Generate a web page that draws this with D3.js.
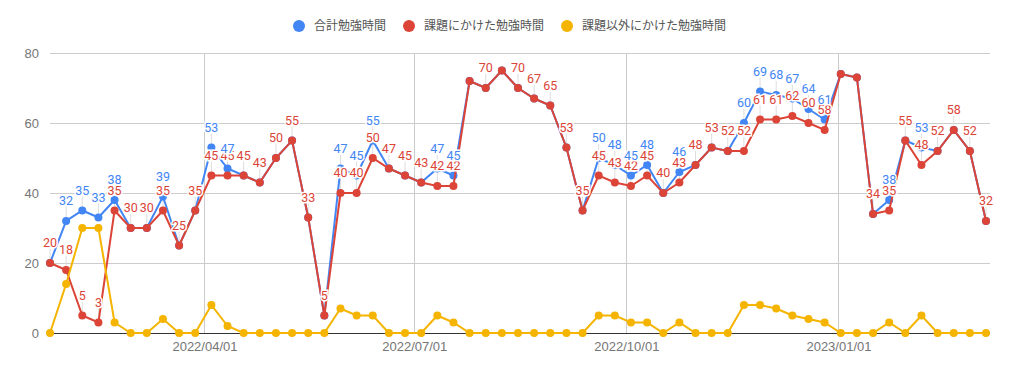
<!DOCTYPE html>
<html>
<head>
<meta charset="utf-8">
<script src="https://cdn.jsdelivr.net/npm/d3@7"></script>
<style>
  body { margin: 0; background: #fff; }
  svg { display: block; font-family: Roboto, "Noto Sans CJK JP", sans-serif; }
</style>
</head>
<body>
<svg></svg>
<script>
// Weekly data points
const dates = [
  "2022-01-24","2022-01-31","2022-02-07","2022-02-14","2022-02-21","2022-02-28","2022-03-07","2022-03-14",
  "2022-03-21","2022-03-28","2022-04-04","2022-04-11","2022-04-18","2022-04-25","2022-05-02","2022-05-09",
  "2022-05-16","2022-05-23","2022-05-30","2022-06-06","2022-06-13","2022-06-20","2022-06-27","2022-07-04",
  "2022-07-11","2022-07-18","2022-07-25","2022-08-01","2022-08-08","2022-08-15","2022-08-22","2022-08-29",
  "2022-09-05","2022-09-12","2022-09-19","2022-09-26","2022-10-03","2022-10-10","2022-10-17","2022-10-24",
  "2022-10-31","2022-11-07","2022-11-14","2022-11-21","2022-11-28","2022-12-05","2022-12-12","2022-12-19",
  "2022-12-26","2023-01-02","2023-01-09","2023-01-16","2023-01-23","2023-01-30","2023-02-06","2023-02-13",
  "2023-02-20","2023-02-27","2023-03-06"
];
const totalHours = [20,32,35,33,38,30,30,39,25,35, 53,47,45,43,50,55,33,5,47,45,
  55,47,45,43,47,45,72,70,75,70, 67,65,53,35,50,48,45,48,40,46,
  48,53,52,60,69,68,67,64,61,74, 73,34,38,55,53,52,58,52,32];
const taskHours = [20,18,5,3,35,30,30,35,25,35, 45,45,45,43,50,55,33,5,40,40,
  50,47,45,43,42,42,72,70,75,70, 67,65,53,35,45,43,42,45,40,43,
  48,53,52,52,61,61,62,60,58,74, 73,34,35,55,48,52,58,52,32];
const otherHours = [0,14,30,30,3,0,0,4,0,0, 8,2,0,0,0,0,0,0,7,5,
  5,0,0,0,5,3,0,0,0,0, 0,0,0,0,5,5,3,3,0,3,
  0,0,0,8,8,7,5,4,3,0, 0,0,3,0,5,0,0,0,0];
const seriesNames = ["合計勉強時間", "課題にかけた勉強時間", "課題以外にかけた勉強時間"];
const seriesColors = ["#4285f4", "#db4437", "#f4b400"];
const yTicks = [0, 20, 40, 60, 80];
const xTicks = ["2022-04-01", "2022-07-01", "2022-10-01", "2023-01-01"];
const hiddenLabels = [26, 28, 49, 50]; // labels google charts dropped

const width = 1009, height = 373;
const margin = { top: 53, right: 19, bottom: 40, left: 50 };

const svg = d3.select("svg").attr("width", width).attr("height", height);
const parse = d3.timeParse("%Y-%m-%d");
const fmt = d3.timeFormat("%Y/%m/%d");

const x = d3.scaleTime()
  .domain([parse(dates[0]), parse(dates[dates.length - 1])])
  .range([50, 986]);
const y = d3.scaleLinear()
  .domain([0, 80])
  .range([height - margin.bottom, margin.top]);

// gridlines
svg.append("g").selectAll("line").data(yTicks).join("line")
  .attr("x1", 50).attr("x2", 990)
  .attr("y1", d => y(d) + 0.5).attr("y2", d => y(d) + 0.5)
  .attr("stroke", "#ccc");
svg.append("g").selectAll("line").data(xTicks).join("line")
  .attr("x1", d => Math.round(x(parse(d))) + 0.5).attr("x2", d => Math.round(x(parse(d))) + 0.5)
  .attr("y1", y(80)).attr("y2", y(0))
  .attr("stroke", "#ccc");

// axes
const yAxis = d3.axisLeft(y).tickValues(yTicks).tickSize(0).tickPadding(11);
svg.append("g").attr("transform", "translate(50,0)").call(yAxis)
  .call(g => g.select(".domain").remove())
  .selectAll("text").attr("fill", "#757575").style("font-size", "13px");
const xAxis = d3.axisBottom(x).tickValues(xTicks.map(parse)).tickFormat(fmt).tickSize(0).tickPadding(9);
svg.append("g").attr("transform", `translate(0,${y(0)})`).call(xAxis)
  .call(g => g.select(".domain").remove())
  .selectAll("text").attr("fill", "#757575").style("font-size", "13px");

svg.append("line")
  .attr("x1", 50).attr("x2", 990)
  .attr("y1", y(0) + 0.5).attr("y2", y(0) + 0.5)
  .attr("stroke", "#333");

const allSeries = [totalHours, taskHours, otherHours];
const line = d3.line().x((d, i) => x(parse(dates[i]))).y(d => y(d));

// label positions (stems drawn under the points)
const labels = [];
taskHours.forEach((v, i) => {
  if (!hiddenLabels.includes(i)) labels.push({ i, v, color: seriesColors[1] });
  if (totalHours[i] !== v) labels.push({ i, v: totalHours[i], color: seriesColors[0] });
});

svg.append("g").selectAll("line").data(labels).join("line")
  .attr("x1", d => x(parse(dates[d.i]))).attr("x2", d => x(parse(dates[d.i])))
  .attr("y1", d => y(d.v)).attr("y2", d => y(d.v) - 14)
  .attr("stroke", "#ddd");

allSeries.forEach((data, s) => {
  const g = svg.append("g");
  g.append("path").datum(data)
    .attr("d", line)
    .attr("fill", "none")
    .attr("stroke", seriesColors[s])
    .attr("stroke-width", 2);
  g.selectAll("circle").data(data).join("circle")
    .attr("cx", (d, i) => x(parse(dates[i])))
    .attr("cy", d => y(d))
    .attr("r", 4)
    .attr("fill", seriesColors[s]);
});

svg.append("g").selectAll("text").data(labels).join("text")
  .attr("x", d => x(parse(dates[d.i])))
  .attr("y", d => y(d.v) - 16)
  .attr("text-anchor", "middle")
  .attr("fill", d => d.color)
  .attr("stroke", "#fff")
  .attr("stroke-width", 3)
  .attr("paint-order", "stroke")
  .style("font-size", "12.5px")
  .text(d => d.v);

// legend
const legend = svg.append("g").style("font-family", "'Noto Sans CJK JP', sans-serif");
let lx = 299;
seriesNames.forEach((name, s) => {
  legend.append("circle").attr("cx", lx).attr("cy", 26).attr("r", 6).attr("fill", seriesColors[s]);
  const t = legend.append("text")
    .attr("x", lx + 15).attr("y", 30)
    .attr("fill", "#555")
    .style("font-size", "12px")
    .text(name);
  lx += 15 + t.node().getComputedTextLength() + 23;
});
</script>
</body>
</html>
